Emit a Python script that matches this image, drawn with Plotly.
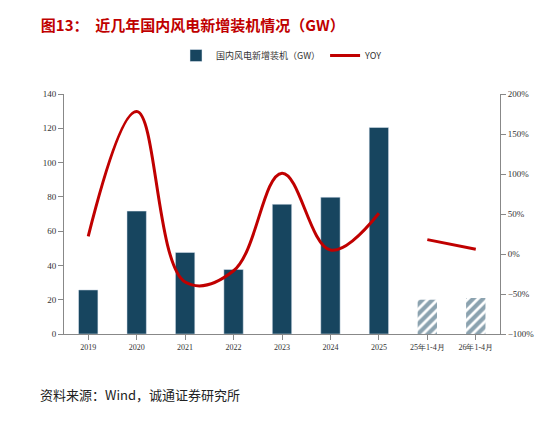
import plotly.graph_objects as go

cats = ["2019","2020","2021","2022","2023","2024","2025","25年1-4月","26年1-4月"]
capacity = [25.7, 71.7, 47.6, 37.6, 75.7, 79.8, 120.5, 20.0, 21.0]
yoy_years = ["2019","2020","2021","2022","2023","2024","2025"]
yoy_vals = [22, 178, -35, -21, 101, 5, 51]
yoy_recent_cats = ["25年1-4月","26年1-4月"]
yoy_recent = [18, 6]

bar_color = "#17455F"
red = "#C00000"
font = "Noto Sans CJK SC"

fig = go.Figure()
fig.add_bar(x=cats[:7], y=capacity[:7], name="国内风电新增装机（GW）",
            marker_color=bar_color, width=0.4)
fig.add_bar(x=cats[7:], y=capacity[7:], showlegend=False, width=0.4,
            marker=dict(color="white", line=dict(color=bar_color, width=0),
                        pattern=dict(shape="/", fgcolor=bar_color, bgcolor="white", size=7, solidity=0.6)))
fig.add_scatter(x=yoy_years, y=yoy_vals, yaxis="y2", mode="lines", name="YOY",
                line=dict(color=red, width=3, shape="spline", smoothing=1.1))
fig.add_scatter(x=yoy_recent_cats, y=yoy_recent, yaxis="y2", mode="lines", showlegend=False,
                line=dict(color=red, width=3))

fig.update_layout(
    width=547, height=422, margin=dict(l=56, r=55, t=86, b=96),
    paper_bgcolor="white", plot_bgcolor="white", barmode="overlay",
    font=dict(family=font, size=9, color="#333"),
    title=dict(text="<b>图13：  近几年国内风电新增装机情况（GW）</b>", x=0.06, y=0.97,
               font=dict(size=15, color=red, family=font)),
    legend=dict(orientation="h", x=0.5, xanchor="center", y=1.1, yanchor="bottom",
                font=dict(size=9)),
    xaxis=dict(type="category", categoryorder="array", categoryarray=cats,
               showline=True, linecolor="#888", ticks="outside", tickcolor="#888",
               tickfont=dict(size=8, family="Liberation Serif")),
    yaxis=dict(range=[0, 140], dtick=20, showgrid=False, showline=True, linecolor="#888",
               ticks="outside", tickcolor="#888", tickfont=dict(family="Liberation Serif", size=9)),
    yaxis2=dict(range=[-100, 200], dtick=50, overlaying="y", side="right", showgrid=False,
                showline=True, linecolor="#888", ticks="outside", tickcolor="#888",
                ticksuffix="%", zeroline=False, tickfont=dict(family="Liberation Serif", size=9)),
)
fig.add_annotation(text="资料来源：Wind，诚通证券研究所", xref="paper", yref="paper",
                   x=-0.06, y=-0.3, xanchor="left", showarrow=False,
                   font=dict(size=13, color="#222", family=font))
fig.write_html("out.html")
